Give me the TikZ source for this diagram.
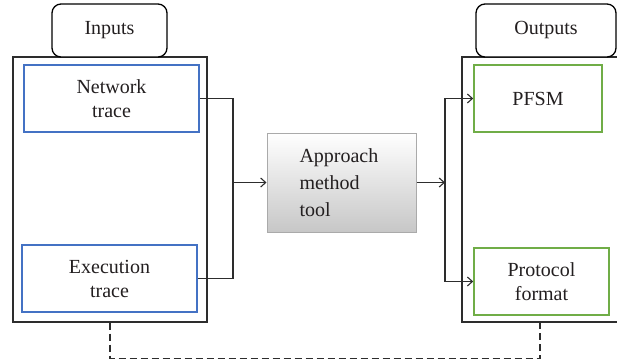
\documentclass[tikz,border=0pt]{standalone}
\usepackage{fontspec}
\setmainfont{Liberation Serif}
\usetikzlibrary{arrows.meta}
\definecolor{inblue}{RGB}{68,114,196}
\definecolor{outgreen}{RGB}{112,173,71}
\definecolor{linegray}{RGB}{45,45,45}
\definecolor{boxgray}{RGB}{170,170,170}
\definecolor{txt}{RGB}{35,31,32}
\begin{document}
\begin{tikzpicture}[x=1pt,y=-1pt,
  every node/.style={font=\fontsize{20}{24}\selectfont, text=txt},
  outerbox/.style={draw=linegray, line width=1.3pt, fill=white, inner sep=0pt},
  titlebox/.style={draw=black, line width=1.3pt, rounded corners=9pt, fill=white, inner sep=0pt, align=center},
  inbox/.style={draw=inblue, line width=1.6pt, fill=white, inner sep=0pt, align=center},
  outbox/.style={draw=outgreen, line width=1.6pt, fill=white, inner sep=0pt, align=center},
  conn/.style={draw=linegray, line width=1.1pt},
  arr/.style={conn, -{Straight Barb[length=5pt,width=9pt]}},
  dashline/.style={draw=linegray, line width=1.1pt, dash pattern=on 7pt off 4pt}
]
\useasboundingbox (0,0) rectangle (617,362);
\fill[white] (0,0) rectangle (617,362);

% left side
\node[outerbox, minimum width=194pt, minimum height=265pt] (lout) at (110,189.5) {};
\node[titlebox, minimum width=115pt, minimum height=53pt] (inputs) at (109.5,30.5) {Inputs};
\node[inbox, minimum width=175pt, minimum height=67pt] (net) at (111.5,98.5) {Network\\trace};
\node[inbox, minimum width=175pt, minimum height=67pt] (exe) at (109.5,278.5) {Execution\\trace};

% right side
\node[outerbox, minimum width=190pt, minimum height=265pt] (rout) at (557,189.5) {};
\node[titlebox, minimum width=140pt, minimum height=53pt] (outputs) at (546,30.5) {Outputs};
\node[outbox, minimum width=128pt, minimum height=67pt] (pfsm) at (538,98.5) {PFSM};
\node[outbox, minimum width=135pt, minimum height=67pt] (proto) at (541.5,281.5) {Protocol\\format};

% middle
\node[draw=boxgray, line width=1pt, shading=axis, top color=white, bottom color=black!22,
      minimum width=149pt, minimum height=99pt, inner sep=0pt, text width=84pt, align=left,
      font=\fontsize{20}{27}\selectfont] (app) at (341.5,182.5) {Approach\\method\\tool};

% connectors
\coordinate (jL) at (233,182.5);
\coordinate (jR) at (445,182.5);
\draw[conn] (net.east) -| (jL);
\draw[conn] (exe.east) -| (jL);
\draw[arr] (jL) -- (app.west);
\draw[arr] (app.east) -- (jR);
\draw[arr] (jR) |- (pfsm.west);
\draw[arr] (jR) |- (proto.west);

% dashed feedback
\coordinate (dR) at (540,322);
\draw[dashline] (lout.south) -- ++(0,35.5) -| (dR);
\end{tikzpicture}
\end{document}
